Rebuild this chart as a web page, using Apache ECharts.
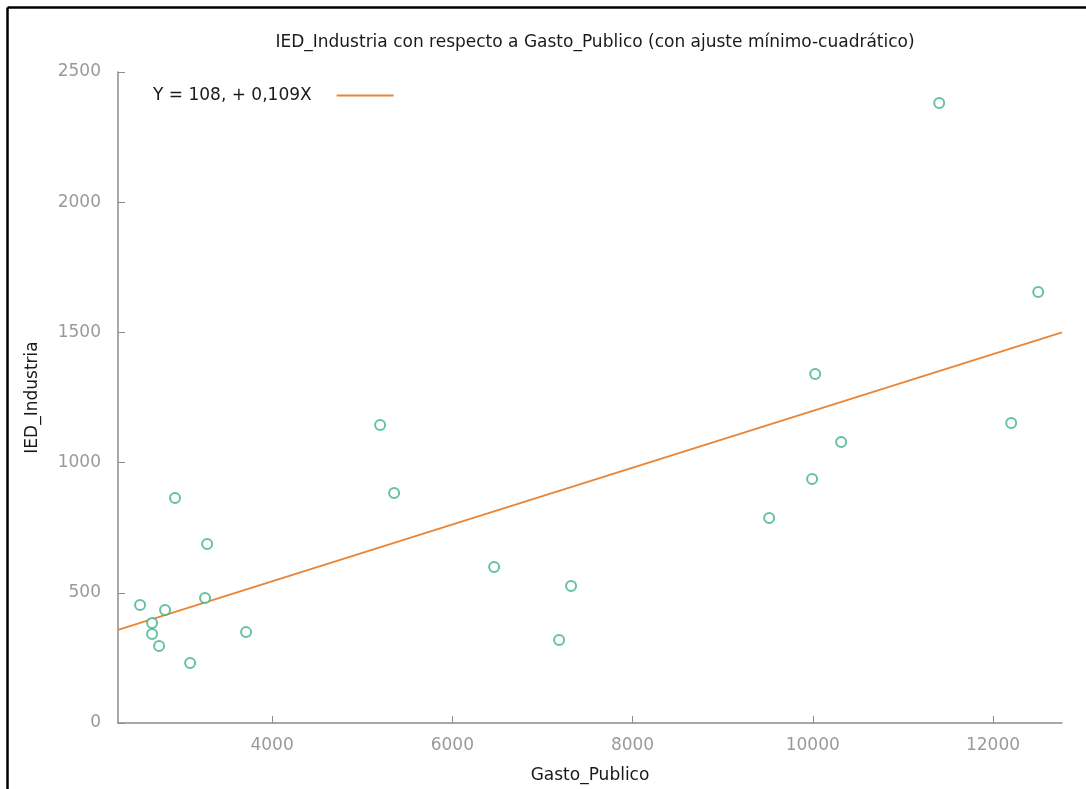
<!DOCTYPE html>
<html>
<head>
<meta charset="utf-8">
<script src="https://cdn.jsdelivr.net/npm/echarts@6/dist/echarts.min.js"></script>
<style>
html,body{margin:0;padding:0;background:#fff;}
#chart{width:1086px;height:789px;}
</style>
</head>
<body>
<div id="chart"></div>
<script>
// Data
const gastoPublico = [2535, 2668, 2668, 2746, 2812, 2923, 3090, 3256, 3279, 3711, 5199, 5354, 6464, 7185, 7318, 9516, 9993, 10027, 10315, 11403, 12202, 12502];
const iedIndustria = [453, 384, 342, 296, 434, 864, 230, 480, 687, 349, 1144, 883, 599, 319, 526, 787, 937, 1340, 1079, 2381, 1152, 1655];
const fitX = [2290, 12766];
const fitY = [358, 1500];
const xTicks = [4000, 6000, 8000, 10000, 12000];
const yTicks = [0, 500, 1000, 1500, 2000, 2500];
const titleText = 'IED_Industria con respecto a Gasto_Publico (con ajuste mínimo-cuadrático)';
const fitName = 'Y = 108, + 0,109X';

const points = gastoPublico.map((x, i) => [x, iedIndustria[i]]);
const fitLine = fitX.map((x, i) => [x, fitY[i]]);

const FONT = 'DejaVu Sans';
const FS = 17;
const chart = echarts.init(document.getElementById('chart'), null, {renderer: 'canvas'});
chart.setOption({
  backgroundColor: '#ffffff',
  animation: false,
  textStyle: {fontFamily: FONT},
  title: {
    text: titleText,
    left: 590, textAlign: 'center', top: 29,
    textStyle: {fontFamily: FONT, fontSize: FS, fontWeight: 'normal', color: '#1a1a1a'}
  },
  legend: {
    data: [{name: fitName, icon: 'rect'}],
    left: 148, top: 82,
    align: 'right',
    itemWidth: 57, itemHeight: 2,
    itemGap: 0,
    textStyle: {fontFamily: FONT, fontSize: FS, color: '#1a1a1a', padding: [0, 20, 0, 0]}
  },
  grid: {left: 118, right: 24, top: 72, bottom: 66, containLabel: false},
  xAxis: {
    type: 'value',
    min: fitX[0], max: fitX[1],
    name: 'Gasto_Publico',
    nameLocation: 'middle', nameGap: 44,
    nameTextStyle: {fontFamily: FONT, fontSize: FS, color: '#1a1a1a'},
    axisLine: {show: true, onZero: false, lineStyle: {color: '#8c8c8c', width: 1.5}},
    axisTick: {show: true, inside: true, length: 7, customValues: xTicks, lineStyle: {color: '#8c8c8c'}},
    axisLabel: {customValues: xTicks, margin: 14, fontFamily: FONT, fontSize: FS, color: '#9a9a9a', formatter: v => String(v)},
    splitLine: {show: false}
  },
  yAxis: {
    type: 'value',
    min: yTicks[0], max: yTicks[yTicks.length - 1], interval: 500,
    name: 'IED_Industria',
    nameLocation: 'middle', nameGap: 77, nameRotate: 90,
    nameTextStyle: {fontFamily: FONT, fontSize: FS, color: '#1a1a1a'},
    axisLine: {show: true, onZero: false, lineStyle: {color: '#8c8c8c', width: 1.5}},
    axisTick: {show: true, inside: true, length: 7, lineStyle: {color: '#8c8c8c'}},
    axisLabel: {margin: 17, fontFamily: FONT, fontSize: FS, color: '#9a9a9a', formatter: v => String(v)},
    splitLine: {show: false}
  },
  series: [
    {
      type: 'scatter',
      name: 'obs',
      data: points,
      symbol: 'circle',
      symbolSize: 10,
      itemStyle: {color: '#ffffff', borderColor: '#3db38a', borderWidth: 2},
      z: 3
    },
    {
      type: 'line',
      name: fitName,
      data: fitLine,
      symbol: 'none',
      showSymbol: false,
      lineStyle: {color: '#ea8536', width: 1.8},
      itemStyle: {color: '#ea8536'},
      z: 2
    }
  ],
  graphic: [
    {type: 'line', shape: {x1: 7.5, y1: 7.5, x2: 1086, y2: 7.5}, style: {stroke: '#000', lineWidth: 2.5}},
    {type: 'line', shape: {x1: 7.5, y1: 7.5, x2: 7.5, y2: 789}, style: {stroke: '#000', lineWidth: 2.5}}
  ]
});
</script>
</body>
</html>
